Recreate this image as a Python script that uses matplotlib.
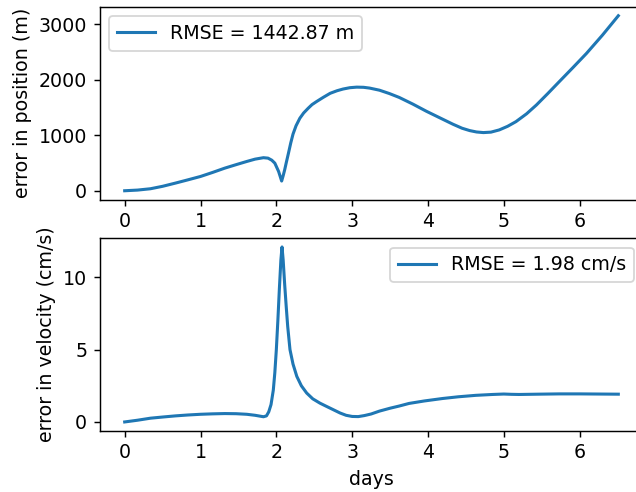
import matplotlib
matplotlib.use("Agg")
import matplotlib.pyplot as plt

days_pos = [0, 0.17, 0.34, 0.5, 0.67, 0.83, 1.0, 1.16, 1.32, 1.47, 1.61, 1.72, 1.83, 1.89, 1.94,
            1.98, 2.03, 2.055, 2.07, 2.09, 2.11, 2.13, 2.16, 2.19, 2.22, 2.26, 2.31, 2.36, 2.42,
            2.47, 2.53, 2.62, 2.71, 2.80, 2.88, 2.97, 3.06, 3.15, 3.23, 3.36, 3.49, 3.62, 3.80,
            3.98, 4.16, 4.33, 4.45, 4.55, 4.64, 4.73, 4.83, 4.94, 5.05, 5.16, 5.30, 5.43, 5.58,
            5.73, 5.91, 6.09, 6.30, 6.51]
pos_err = [0, 12, 36, 80, 138, 195, 257, 330, 407, 470, 527, 569, 595, 587, 550,
           497, 347, 240, 175, 270, 377, 500, 677, 860, 1020, 1170, 1305, 1400, 1485,
           1550, 1605, 1682, 1754, 1800, 1831, 1855, 1865, 1862, 1848, 1810, 1750, 1680, 1560,
           1430, 1310, 1197, 1125, 1083, 1058, 1047, 1055, 1095, 1160, 1244, 1385, 1544, 1750,
           1962, 2215, 2472, 2800, 3150]

days_vel = [0, 0.17, 0.34, 0.5, 0.67, 0.83, 1.0, 1.16, 1.32, 1.47, 1.61, 1.72, 1.83, 1.87, 1.90,
            1.93, 1.96, 1.98, 2.0, 2.02, 2.04, 2.06, 2.075, 2.09, 2.11, 2.13, 2.15, 2.18,
            2.22, 2.27, 2.33, 2.40, 2.48, 2.575, 2.66, 2.75, 2.84, 2.92, 3.0, 3.08, 3.16, 3.25,
            3.36, 3.5, 3.62, 3.75, 3.95, 4.19, 4.4, 4.63, 4.85, 5.0, 5.1, 5.2, 5.45, 5.73, 6.0,
            6.25, 6.51]
vel_err = [0, 0.12, 0.26, 0.34, 0.42, 0.48, 0.53, 0.56, 0.58, 0.57, 0.53, 0.46, 0.36, 0.42, 0.7,
           1.2, 2.2, 3.4, 5.0, 7.0, 9.2, 11.2, 12.1, 11.2, 9.5, 8.0, 6.6, 5.0,
           4.0, 3.15, 2.5, 2.0, 1.6, 1.3, 1.08, 0.85, 0.62, 0.46, 0.38, 0.37, 0.44, 0.55,
           0.75, 0.95, 1.1, 1.28, 1.45, 1.62, 1.74, 1.84, 1.9, 1.93, 1.91, 1.90, 1.92, 1.94, 1.94,
           1.93, 1.92]

pos_label = "RMSE = 1442.87 m"
vel_label = "RMSE = 1.98 cm/s"

plt.rcParams["font.size"] = 10.5

dpi = 130
fig = plt.figure(figsize=(636 / dpi, 492 / dpi), dpi=dpi)
W, H = 636, 492
ax1 = fig.add_axes([100 / W, 1 - 199.5 / H, 543 / W, 192.5 / H])
ax2 = fig.add_axes([100 / W, 1 - 430.7 / H, 543 / W, 192.5 / H])

ax1.plot(days_pos, pos_err, color="#1f77b4", lw=1.7, label=pos_label)
ax1.set_ylabel("error in position (m)")
ax1.set_yticks([0, 1000, 2000, 3000])
ax1.set_xticks([0, 1, 2, 3, 4, 5, 6])
ax1.legend(loc="upper left")

ax2.plot(days_vel, vel_err, color="#1f77b4", lw=1.7, label=vel_label)
ax2.set_ylabel("error in velocity (cm/s)")
ax2.set_xlabel("days")
ax2.set_yticks([0, 5, 10])
ax2.set_xticks([0, 1, 2, 3, 4, 5, 6])
ax2.legend(loc="upper right")

fig.savefig("out.png", dpi=dpi)
